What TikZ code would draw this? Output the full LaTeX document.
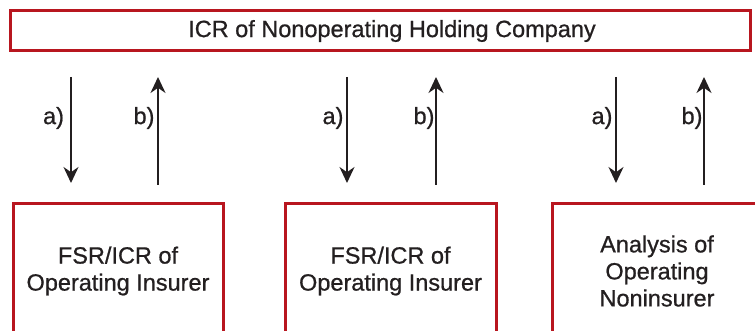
\documentclass[tikz,border=0pt]{standalone}
\usepackage{fontspec}
\setmainfont{Liberation Sans}[FakeBold=0.8]
\usetikzlibrary{arrows.meta}

\definecolor{boxred}{HTML}{B8161F}
\definecolor{ink}{HTML}{231F20}

\tikzset{
  redbox/.style={draw=boxred, line width=1.5pt, outer sep=0pt, text=ink,
    align=center, font=\fontsize{11.75}{13.5}\selectfont},
  flow/.style={draw=ink, line width=1pt, -{Stealth[length=8pt,width=7.5pt]}},
  tag/.style={text=ink, inner sep=0pt, font=\fontsize{11.75}{13.5}\selectfont},
}

\begin{document}
\begin{tikzpicture}[x=0.5pt,y=-0.5pt]
  \useasboundingbox (0,0) rectangle (755,331);
  \clip (0,0) rectangle (755,331);

  % holding company on top
  \node[redbox, minimum width=370pt, minimum height=20pt] (hold) at (380,31)
    {\hspace*{12pt}ICR of Nonoperating Holding Company};

  % the three subsidiaries (boxes run off the bottom edge)
  \node[redbox, anchor=north, minimum width=105pt, minimum height=67pt] (ins1) at (118,204)
    {FSR/ICR of\\Operating Insurer};
  \node[redbox, anchor=north, minimum width=105.5pt, minimum height=67pt] (ins2) at (390.5,204)
    {FSR/ICR of\\Operating Insurer};
  \node[redbox, anchor=north, minimum width=105pt, minimum height=67pt] (nonins) at (657,204)
    {Analysis of\\Operating\\Noninsurer};

  % arrow columns
  \coordinate (a1) at (71,0);
  \coordinate (b1) at (158,0);
  \coordinate (a2) at (347,0);
  \coordinate (b2) at (436,0);
  \coordinate (a3) at (616,0);
  \coordinate (b3) at (704,0);

  \draw[flow, shorten <=13pt, shorten >=10.5pt] (hold.south -| a1) -- (ins1.north -| a1);
  \draw[flow, shorten <=9.5pt, shorten >=13pt] (ins1.north -| b1) -- (hold.south -| b1);
  \draw[flow, shorten <=13pt, shorten >=10.5pt] (hold.south -| a2) -- (ins2.north -| a2);
  \draw[flow, shorten <=9.5pt, shorten >=13pt] (ins2.north -| b2) -- (hold.south -| b2);
  \draw[flow, shorten <=13pt, shorten >=10.5pt] (hold.south -| a3) -- (nonins.north -| a3);
  \draw[flow, shorten <=9.5pt, shorten >=13pt] (nonins.north -| b3) -- (hold.south -| b3);

  \node[tag] (la1) at (53.5,118) {a)};
  \node[tag] (lb1) at (144,118) {b)};
  \node[tag] (la2) at (333,118) {a)};
  \node[tag] (lb2) at (424,118) {b)};
  \node[tag] (la3) at (602,118) {a)};
  \node[tag] (lb3) at (692,118) {b)};
\end{tikzpicture}
\end{document}
